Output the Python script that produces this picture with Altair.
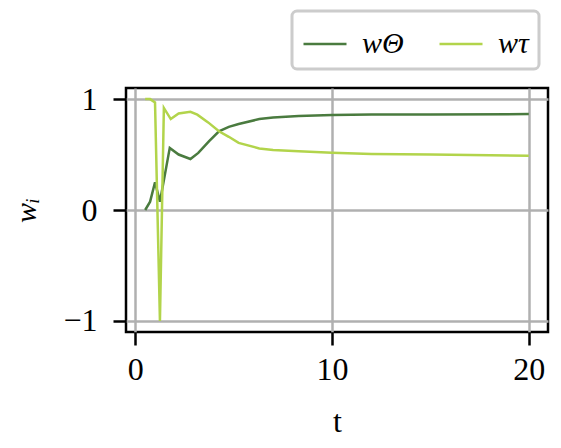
import altair as alt
import pandas as pd

# series w_Theta
theta_t = [0.5, 0.75, 1.0, 1.25, 1.75, 2.2, 2.8, 3.2, 3.75, 4.25, 4.75, 5.25, 6.3, 7.0, 8.3, 10, 12, 15, 20]
theta_w = [0.0, 0.075, 0.25, 0.075, 0.56, 0.50, 0.46, 0.515, 0.62, 0.71, 0.75, 0.775, 0.82, 0.835, 0.847, 0.856, 0.86, 0.862, 0.865]
# series w_tau
tau_t = [0.5, 0.75, 1.0, 1.25, 1.45, 1.8, 2.2, 2.8, 3.15, 3.7, 4.25, 4.75, 5.25, 6.3, 7.0, 8.3, 10, 12, 15, 20]
tau_w = [1.0, 1.0, 0.97, -1.0, 0.92, 0.82, 0.87, 0.885, 0.86, 0.79, 0.71, 0.66, 0.605, 0.555, 0.54, 0.53, 0.516, 0.505, 0.50, 0.49]

series_names = ["wΘ", "wτ"]
series_colors = ["#4a7b3f", "#b2d44b"]
x_ticks = [0, 10, 20]
y_ticks = [-1, 0, 1]

df = pd.concat([
    pd.DataFrame({"t": theta_t, "w": theta_w, "s": series_names[0], "o": 0}),
    pd.DataFrame({"t": tau_t, "w": tau_w, "s": series_names[1], "o": 1}),
], ignore_index=True)

FONT = "Times New Roman, Liberation Serif, serif"

chart = alt.Chart(df).mark_line(strokeWidth=2.5, clip=True).encode(
    x=alt.X("t:Q", scale=alt.Scale(domain=[-0.475, 20.975], nice=False, zero=False),
            axis=alt.Axis(values=x_ticks, title="t", format="d")),
    y=alt.Y("w:Q", scale=alt.Scale(domain=[-1.1, 1.1], nice=False),
            axis=alt.Axis(values=y_ticks, title="wᵢ", format="d", titleFontStyle="italic",
                          titleFontSize=30)),
    color=alt.Color("s:N", scale=alt.Scale(domain=series_names, range=series_colors),
                    legend=alt.Legend(title=None, orient="none", direction="horizontal",
                                      legendX=166, legendY=-77)),
    order=alt.Order("o:Q"),
).properties(
    width=422, height=244,
    autosize=alt.AutoSizeParams(type="pad"),
    padding={"left": 3, "top": 1, "right": 2, "bottom": 5},
).configure_view(
    stroke="black", strokeWidth=2.5
).configure_axis(
    domain=False,
    grid=True, gridColor="#b0b0b0", gridWidth=2.5,
    ticks=True, tickColor="black", tickWidth=2.5, tickSize=13,
    labelFont=FONT, labelFontSize=32, labelColor="black",
    titleFont=FONT, titleFontSize=32, titleColor="black", titleFontWeight="normal",
).configure_axisX(
    labelPadding=9, titlePadding=21,
).configure_axisY(
    labelPadding=16, titlePadding=21,
).configure_legend(
    symbolType="stroke", symbolSize=1849, symbolStrokeWidth=2.5,
    labelFont=FONT, labelFontSize=30, labelFontStyle="italic", labelColor="black",
    labelOffset=14, columnPadding=30,
    strokeColor="#cccccc", strokeWidth=3, cornerRadius=5, padding=10,
    fillColor="white",
)

chart.save("out.html", embed_options={"renderer": "svg", "actions": False})
